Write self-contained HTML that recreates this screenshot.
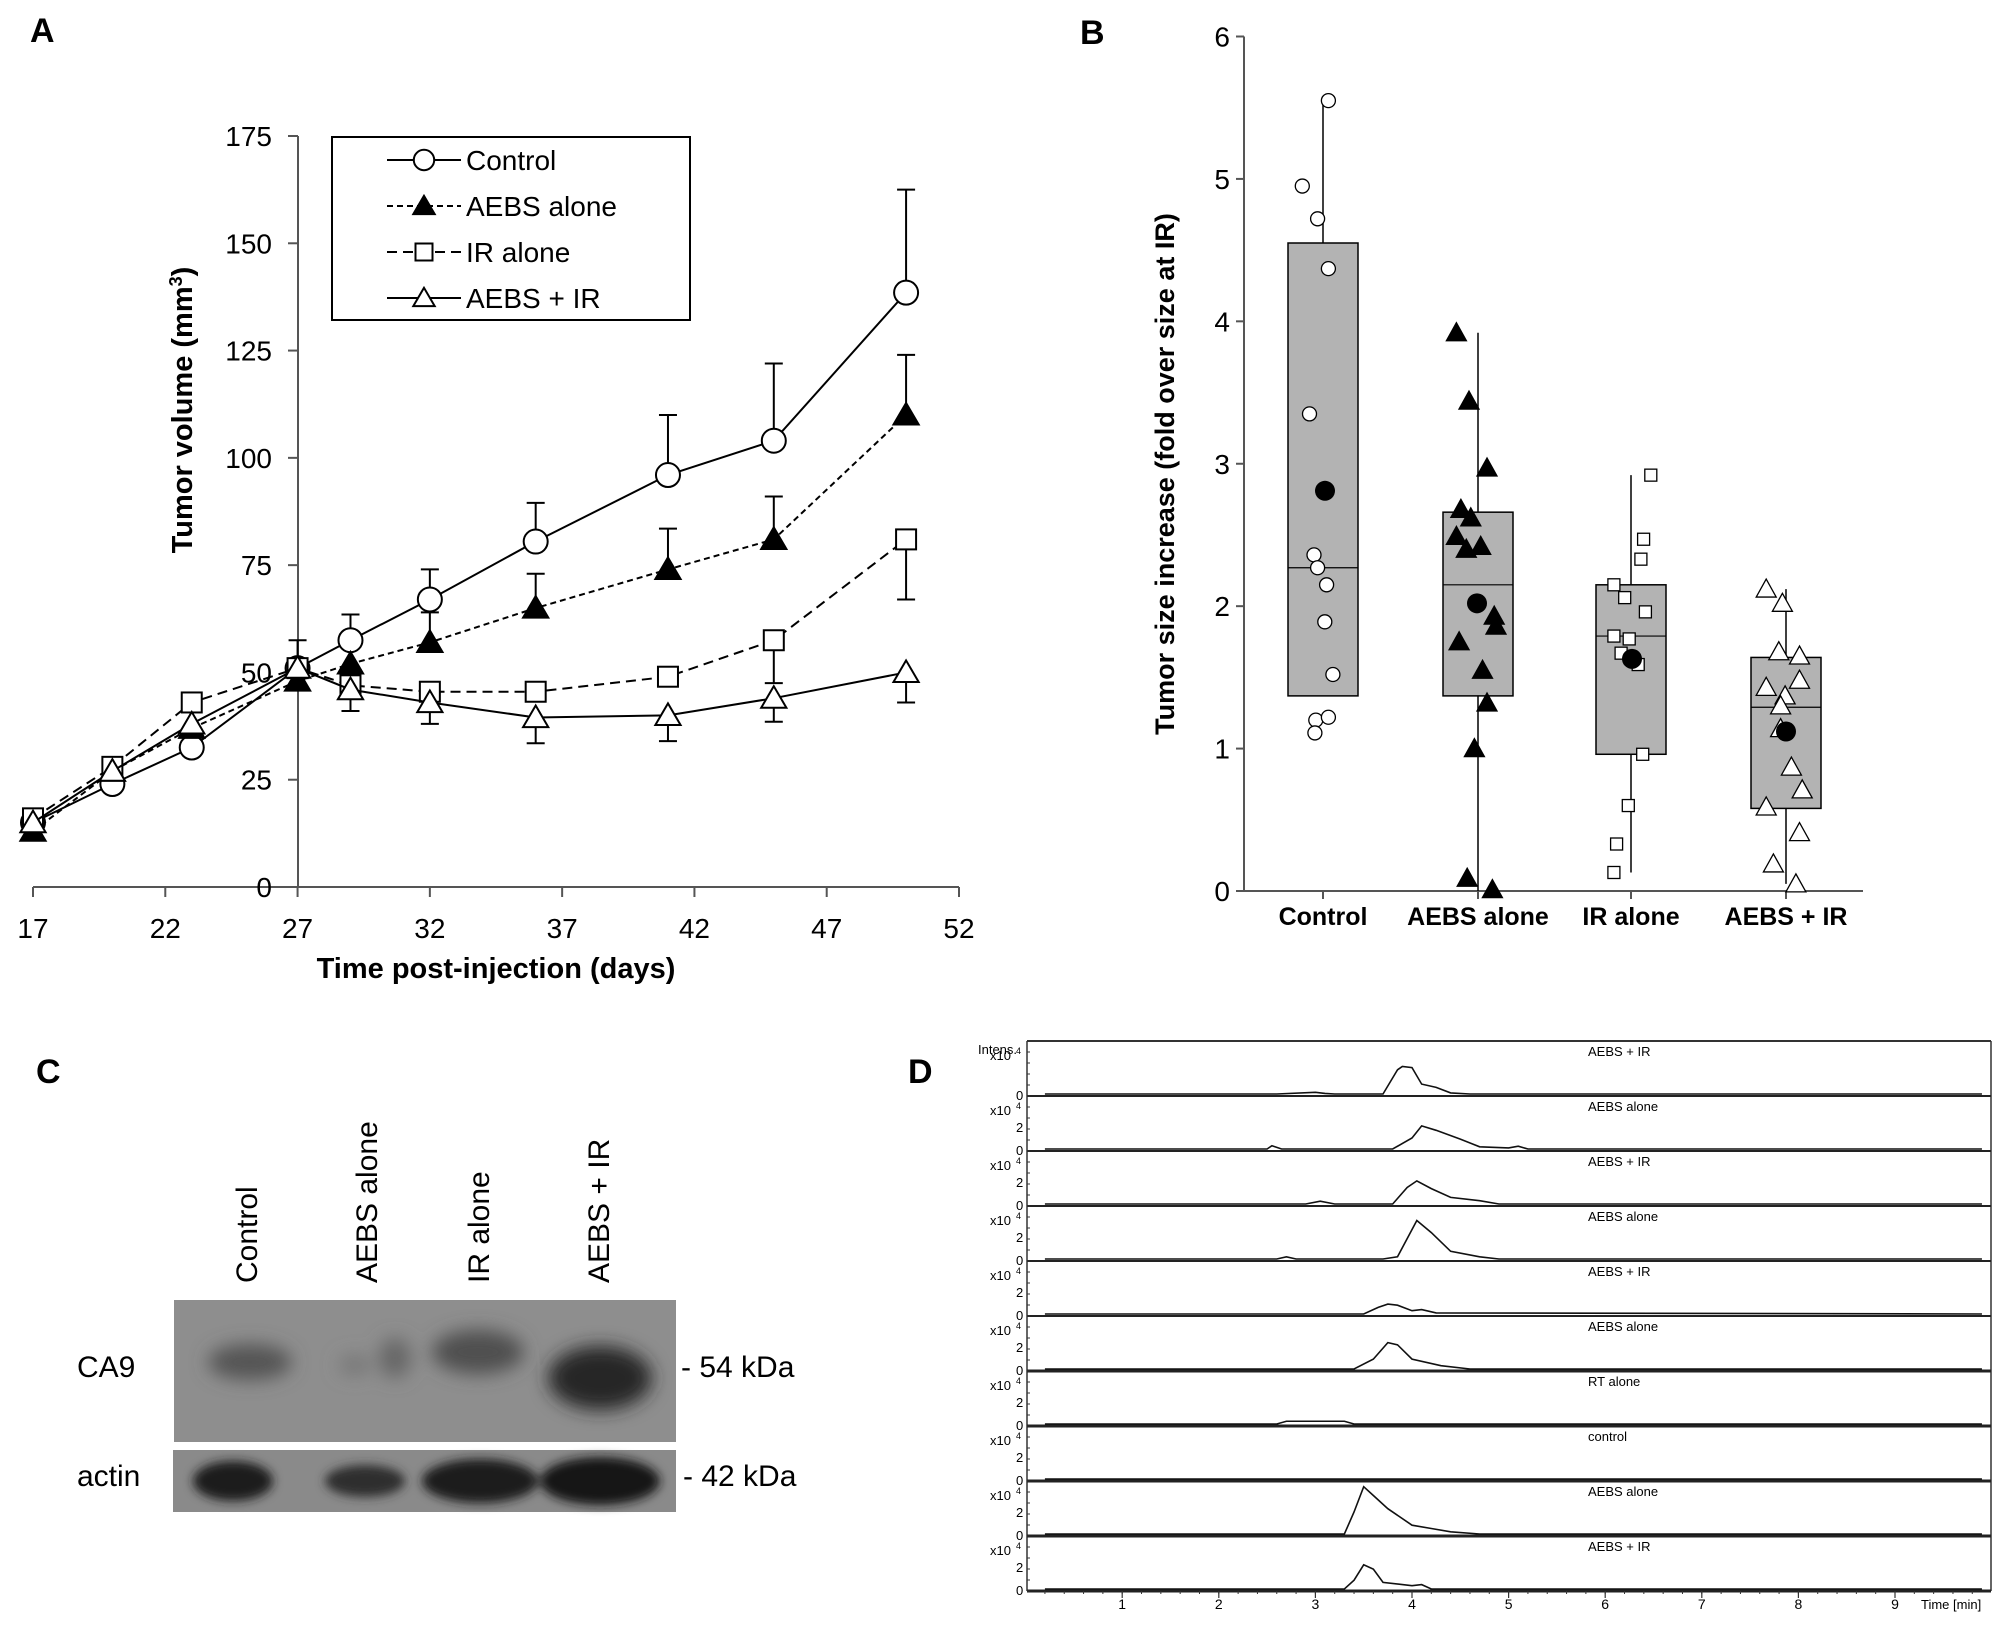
<!DOCTYPE html>
<html><head><meta charset="utf-8"><style>
html,body{margin:0;padding:0;background:#fff}
svg{display:block;font-family:"Liberation Sans",Arial,sans-serif}
</style></head><body>
<svg id="fig" width="2008" height="1636" viewBox="0 0 2008 1636" xmlns="http://www.w3.org/2000/svg">
<defs>
<filter id="blur8" x="-50%" y="-50%" width="200%" height="200%"><feGaussianBlur stdDeviation="9"/></filter>
<filter id="blur4" x="-50%" y="-50%" width="200%" height="200%"><feGaussianBlur stdDeviation="5"/></filter>
</defs>
<text x="30" y="42" font-size="34" font-weight="bold">A</text>
<text x="1080" y="44" font-size="34" font-weight="bold">B</text>
<text x="36" y="1083" font-size="34" font-weight="bold">C</text>
<text x="908" y="1083" font-size="34" font-weight="bold">D</text>
<g id="panelA"></g>
<g id="panelB"></g>
<g id="panelC"></g>
<g id="panelD"></g>
</svg>
<script>
// ---------- Panel A data ----------
const aDays = [17,20,23,27,29,32,36,41,45,50];
const aControl = [15,24,32.5,51,57.5,67,80.5,96,104,138.5];
const aControlErr = [0,0,0,6.5,6,7,9,14,18,24];
const aAebs = [13,27,37,48,52,57,65,74,81,110];
const aAebsErr = [0,0,0,0,0,7,8,9.5,10,14];
const aIr = [16,28,43,51,47,45.5,45.5,49,57.5,81];
const aIrErr = [0,0,0,0,0,0,0,0,10,14];
const aCombo = [15,27,38,51,46,43,39.5,40,44,50];
const aComboErr = [0,0,0,0,5,5,6,6,5.5,7];
const aYTicks = [0,25,50,75,100,125,150,175];
const aXTicks = [17,22,27,32,37,42,47,52];
const aLegend = ['Control','AEBS alone','IR alone','AEBS + IR'];

// ---------- Panel B data ----------
const bCats = ['Control','AEBS alone','IR alone','AEBS + IR'];
const bQ1 = [1.37,1.37,0.96,0.58];
const bQ3 = [4.55,2.66,2.15,1.64];
const bMed = [2.27,2.15,1.79,1.29];
const bWLo = [1.37,0.0,0.13,0.05];
const bWHi = [5.55,3.92,2.92,2.12];
const bMean = [2.81,2.02,1.63,1.12];
const bPtsControl = [4.95,4.72,5.55,4.37,3.35,2.36,2.27,2.15,1.89,1.52,1.2,1.22,1.11];
const bJitControl = [-23,-6,6,6,-15,-10,-6,4,2,11,-8,6,-9];
const bPtsAebs = [3.92,3.44,2.97,2.68,2.62,2.49,2.4,2.42,1.93,1.86,1.75,1.55,1.32,1.0,0.09,0.01];
const bJitAebs = [-24,-10,10,-19,-8,-24,-13,3,18,20,-21,5,10,-4,-12,16];
const bPtsIr = [2.92,2.47,2.33,2.15,2.06,1.96,1.79,1.77,1.67,1.59,0.96,0.6,0.33,0.13];
const bJitIr = [22,14,11,-19,-7,16,-19,-2,-11,8,13,-3,-16,-19];
const bPtsCombo = [2.12,2.02,1.68,1.65,1.48,1.43,1.37,1.3,1.14,0.87,0.71,0.59,0.41,0.19,0.05];
const bJitCombo = [-22,-4,-8,15,15,-22,-1,-6,-6,6,18,-22,15,-14,11];
const bYTicks = [0,1,2,3,4,5,6];

// ---------- Panel D data ----------
const dLabels = ['AEBS + IR','AEBS alone','AEBS + IR','AEBS alone','AEBS + IR','AEBS alone','RT alone','control','AEBS alone','AEBS + IR'];
const dTimes = [
 [0.2,2.6,3.0,3.1,3.2,3.7,3.85,3.9,4.0,4.1,4.25,4.4,4.6,9.9],
 [0.2,2.5,2.55,2.65,3.8,4.0,4.1,4.25,4.5,4.7,5.0,5.1,5.2,9.9],
 [0.2,2.9,3.05,3.2,3.8,3.95,4.05,4.2,4.4,4.7,4.9,9.9],
 [0.2,2.6,2.7,2.8,3.7,3.85,4.05,4.2,4.4,4.7,4.9,9.9],
 [0.2,3.5,3.65,3.75,3.85,4.0,4.1,4.25,9.9],
 [0.2,3.4,3.6,3.75,3.85,4.0,4.3,4.6,9.9],
 [0.2,2.6,2.7,3.3,3.4,9.9],
 [0.2,9.9],
 [0.2,3.3,3.4,3.5,3.6,3.75,4.0,4.2,4.4,4.7,9.9],
 [0.2,2.8,3.3,3.4,3.5,3.6,3.7,4.0,4.1,4.2,9.9]];
const dVals = [
 [0,0,0.15,0.05,0,0,2.2,2.5,2.4,0.9,0.6,0.1,0,0],
 [0,0,0.3,0,0,1.0,2.1,1.7,0.9,0.2,0.1,0.25,0,0],
 [0,0,0.25,0,0,1.5,2.1,1.4,0.6,0.3,0,0],
 [0,0,0.2,0,0,0.2,3.5,2.4,0.7,0.2,0,0],
 [0,0,0.6,0.9,0.8,0.3,0.4,0.1,0],
 [0,0,0.9,2.4,2.2,0.9,0.3,0,0],
 [0,0,0.25,0.25,0,0],
 [0,0],
 [0,0,2.0,4.3,3.5,2.3,0.8,0.5,0.2,0,0],
 [0,0,0,0.8,2.2,1.8,0.6,0.3,0.4,0,0]];
const dXTicks = [1,2,3,4,5,6,7,8,9];

const NS='http://www.w3.org/2000/svg';
function mk(parent,tag,attrs,text){const e=document.createElementNS(NS,tag);for(const k in attrs)e.setAttribute(k,attrs[k]);if(text!==undefined)e.textContent=text;parent.appendChild(e);return e;}

// ================= Panel A =================
(function(){
 const g=document.getElementById('panelA');
 const X=d=>33+(d-17)*(926/35);
 const Y=v=>887-v*(751/175);
 let e;
 e=mk(g,'line',{x1:298,y1:Y(175),x2:298,y2:887,stroke:'#555','stroke-width':2});
 
 
 e=mk(g,'line',{x1:33,y1:887,x2:959,y2:887,stroke:'#555','stroke-width':2});
 
 
 aYTicks.forEach(v=>{
  mk(g,'line',{x1:288,y1:Y(v),x2:298,y2:Y(v),stroke:'#555','stroke-width':2});
  e=mk(g,'text',{x:272,y:Y(v)+10,'font-size':28,'text-anchor':'end'},String(v));
  
  
 });
 aXTicks.forEach(v=>{
  mk(g,'line',{x1:X(v),y1:887,x2:X(v),y2:897,stroke:'#555','stroke-width':2});
  e=mk(g,'text',{x:X(v),y:938,'font-size':28,'text-anchor':'middle'},String(v));
  
  
 });
 e=mk(g,'text',{x:496,y:978,'font-size':29,'font-weight':'bold','text-anchor':'middle'},'Time post-injection (days)');
 
 
 e=mk(g,'text',{x:0,y:0,'font-size':29,'font-weight':'bold','text-anchor':'middle',transform:'translate(192,410) rotate(-90)'});
 
 
 e.innerHTML='Tumor volume (mm<tspan font-size="18" dy="-10">3</tspan><tspan dy="10">)</tspan>';

 function marker(p,type,cx,cy,big){
  const s=big?1:0.85;
  if(type==='circle') return mk(p,'circle',{cx,cy,r:12*s,fill:'#fff',stroke:'#000','stroke-width':2});
  if(type==='square') return mk(p,'rect',{x:cx-10*s,y:cy-10*s,width:20*s,height:20*s,fill:'#fff',stroke:'#000','stroke-width':2});
  const h=12*s;
  return mk(p,'polygon',{points:`${cx},${cy-h} ${cx-h*1.05},${cy+h*0.8} ${cx+h*1.05},${cy+h*0.8}`,fill:type==='tri-filled'?'#000':'#fff',stroke:'#000','stroke-width':2});
 }
 const series=[
  {name:'control',vals:aControl,err:aControlErr,dir:-1,dash:'',m:'circle'},
  {name:'aebs-alone',vals:aAebs,err:aAebsErr,dir:-1,dash:'6,4',m:'tri-filled'},
  {name:'ir-alone',vals:aIr,err:aIrErr,dir:1,dash:'10,6',m:'square'},
  {name:'aebs-ir',vals:aCombo,err:aComboErr,dir:1,dash:'',m:'tri-open'}];
 series.forEach(s=>{
  const sg=mk(g,'g',{});
  
  
  s.vals.forEach((v,i)=>{
   if(s.err[i]>0){
    const y2=Y(v+s.dir*-1*s.err[i]);
    const ey=Y(s.dir<0?v+s.err[i]:v-s.err[i]);
    mk(sg,'line',{x1:X(aDays[i]),y1:Y(v),x2:X(aDays[i]),y2:ey,stroke:'#000','stroke-width':2});
    mk(sg,'line',{x1:X(aDays[i])-9,y1:ey,x2:X(aDays[i])+9,y2:ey,stroke:'#000','stroke-width':2});
   }
  });
  const pts=s.vals.map((v,i)=>X(aDays[i])+','+Y(v)).join(' ');
  const pl=mk(sg,'polyline',{points:pts,fill:'none',stroke:'#000','stroke-width':2,'stroke-dasharray':s.dash});
  
  
  s.vals.forEach((v,i)=>{
   const m=marker(sg,s.m,X(aDays[i]),Y(v),true);
   
   
  });
 });
 const lg=mk(g,'g',{});
 
 
 mk(lg,'rect',{x:332,y:137,width:358,height:183,fill:'#fff',stroke:'#000','stroke-width':2});
 aLegend.forEach((t,i)=>{
  const y=160+i*46;
  const s=series[i];
  const eg=mk(lg,'g',{});
  
  
  mk(eg,'line',{x1:387,y1:y,x2:461,y2:y,stroke:'#000','stroke-width':2,'stroke-dasharray':s.dash});
  marker(eg,s.m,424,y,false);
  mk(eg,'text',{x:466,y:y+10,'font-size':28},t);
 });
})();

// ================= Panel B =================
(function(){
 const g=document.getElementById('panelB');
 const Y=v=>891-v*(854.5/6);
 const cx=[1323,1478,1631,1786];
 let e;
 e=mk(g,'line',{x1:1244,y1:Y(6),x2:1244,y2:891,stroke:'#555','stroke-width':2});
 
 
 e=mk(g,'line',{x1:1244,y1:891,x2:1863,y2:891,stroke:'#555','stroke-width':2});
 
 
 bYTicks.forEach(v=>{
  mk(g,'line',{x1:1236,y1:Y(v),x2:1244,y2:Y(v),stroke:'#555','stroke-width':2});
  e=mk(g,'text',{x:1230,y:Y(v)+10,'font-size':28,'text-anchor':'end'},String(v));
  
  
 });
 e=mk(g,'text',{x:0,y:0,'font-size':27,'font-weight':'bold','text-anchor':'middle',transform:'translate(1174,474) rotate(-90)'},'Tumor size increase (fold over size at IR)');
 
 
 const pts=[bPtsControl,bPtsAebs,bPtsIr,bPtsCombo];
 const jit=[bJitControl,bJitAebs,bJitIr,bJitCombo];
 const mtype=['circle','tri-filled','square','tri-open'];
 bCats.forEach((c,i)=>{
  const x=cx[i];
  mk(g,'line',{x1:x,y1:891,x2:x,y2:899,stroke:'#555','stroke-width':2});
  e=mk(g,'text',{x:x,y:925,'font-size':25,'font-weight':'bold','text-anchor':'middle'},c);
  
  
  const bg=mk(g,'g',{});
  
  
  mk(bg,'line',{x1:x,y1:Y(bWHi[i]),x2:x,y2:Y(bWLo[i]),stroke:'#000','stroke-width':1.5});
  mk(bg,'rect',{x:x-35,y:Y(bQ3[i]),width:70,height:Y(bQ1[i])-Y(bQ3[i]),fill:'#b3b3b3',stroke:'#000','stroke-width':1.5});
  mk(bg,'line',{x1:x-35,y1:Y(bMed[i]),x2:x+35,y2:Y(bMed[i]),stroke:'#000','stroke-width':1.2});
  pts[i].forEach((v,k)=>{
   const px=x+jit[i][k]*0.9, py=Y(v);
   let m;
   if(mtype[i]==='circle') m=mk(bg,'circle',{cx:px,cy:py,r:7,fill:'#fff',stroke:'#000','stroke-width':1.3});
   else if(mtype[i]==='square') m=mk(bg,'rect',{x:px-6,y:py-6,width:12,height:12,fill:'#fff',stroke:'#000','stroke-width':1.3});
   else m=mk(bg,'polygon',{points:`${px},${py-10} ${px-10},${py+8} ${px+10},${py+8}`,fill:mtype[i]==='tri-filled'?'#000':'#fff',stroke:'#000','stroke-width':1.3});
   
   
  });
  const mm=mk(bg,'circle',{cx:x+(i===0?2:i===1?-1:i===2?1:0),cy:Y(bMean[i]),r:10,fill:'#000'});
  
  
 });
})();

// ================= Panel C =================
(function(){
 const g=document.getElementById('panelC');
 const lanes=[247,367,479,599];
 const laneLabels=['Control','AEBS alone','IR alone','AEBS + IR'];
 let e;
 laneLabels.forEach((t,i)=>{
  e=mk(g,'text',{x:0,y:0,'font-size':30,transform:`translate(${lanes[i]+10},1283) rotate(-90)`},t);
  
  
 });
 const ca=mk(g,'g',{});
 
 
 mk(ca,'rect',{x:174,y:1300,width:502,height:142,fill:'#8e8e8e'});
 const cg=mk(ca,'g',{filter:'url(#blur8)'});
 mk(cg,'ellipse',{cx:250,cy:1362,rx:42,ry:18,fill:'#555'});
 mk(cg,'ellipse',{cx:355,cy:1365,rx:16,ry:10,fill:'#777'});
 mk(cg,'ellipse',{cx:395,cy:1358,rx:16,ry:20,fill:'#666'});
 mk(cg,'ellipse',{cx:478,cy:1352,rx:46,ry:22,fill:'#4f4f4f'});
 mk(cg,'ellipse',{cx:600,cy:1378,rx:52,ry:32,fill:'#262626'});
 const ac=mk(g,'g',{});
 
 
 mk(ac,'rect',{x:173,y:1450,width:503,height:62,fill:'#8a8a8a'});
 const agp=mk(ac,'g',{filter:'url(#blur4)'});
 mk(agp,'ellipse',{cx:233,cy:1481,rx:40,ry:20,fill:'#1e1e1e'});
 mk(agp,'ellipse',{cx:365,cy:1481,rx:40,ry:16,fill:'#2e2e2e'});
 mk(agp,'ellipse',{cx:480,cy:1481,rx:58,ry:22,fill:'#1c1c1c'});
 mk(agp,'ellipse',{cx:600,cy:1481,rx:60,ry:24,fill:'#161616'});
 [['CA9',77,1377],['actin',77,1486]].forEach(a=>{
  e=mk(g,'text',{x:a[1],y:a[2],'font-size':30},a[0]);
  
  
 });
 [['- 54 kDa',681,1377],['- 42 kDa',683,1486]].forEach(a=>{
  e=mk(g,'text',{x:a[1],y:a[2],'font-size':30},a[0]);
  
  
 });
})();

// ================= Panel D =================
(function(){
 const g=document.getElementById('panelD');
 const L=1027,R=1991,T=1041,H=55;
 const X=t=>1025.6+t*96.6;
 let e;
 e=mk(g,'text',{x:978,y:1054,'font-size':13},'Intens.');
 
 
 mk(g,'line',{x1:L,y1:T,x2:R,y2:T,stroke:'#333','stroke-width':2});
 mk(g,'line',{x1:L,y1:T,x2:L,y2:T+H*10,stroke:'#333','stroke-width':1.5});
 mk(g,'line',{x1:R,y1:T,x2:R,y2:T+H*10,stroke:'#333','stroke-width':1.5});
 dLabels.forEach((lab,i)=>{
  const base=T+H*(i+1);
  const sg=mk(g,'g',{});
  
  
  const Yv=v=>base-2-v*11;
  mk(sg,'line',{x1:L,y1:base,x2:R,y2:base,stroke:'#222','stroke-width':i>=5?3:2});
  const pts=dTimes[i].map((t,k)=>X(t)+','+Yv(dVals[i][k])).join(' ');
  mk(sg,'polyline',{points:pts,fill:'none',stroke:'#111','stroke-width':1.6});
  mk(sg,'text',{x:1588,y:base-H+15,'font-size':13},lab);
  mk(sg,'text',{x:990,y:base-H+19,'font-size':13},'x10');
  mk(sg,'text',{x:1016,y:base-H+13,'font-size':9},'4');
  if(i>0) mk(sg,'text',{x:1016,y:Yv(2)+5,'font-size':13},'2');
  mk(sg,'text',{x:1016,y:base+4,'font-size':13},'0');
  for(let k=0;k<5;k++) mk(sg,'line',{x1:L,y1:base-k*11,x2:L+3,y2:base-k*11,stroke:'#333','stroke-width':1});
 });
 const bottom=T+H*10;
 for(let t=0.2;t<9.95;t+=0.2){mk(g,'line',{x1:X(t),y1:bottom,x2:X(t),y2:bottom+3,stroke:'#333','stroke-width':1});}
 dXTicks.forEach(t=>{
  mk(g,'line',{x1:X(t),y1:bottom,x2:X(t),y2:bottom+7,stroke:'#333','stroke-width':1.2});
  e=mk(g,'text',{x:X(t),y:bottom+18,'font-size':14,'text-anchor':'middle'},String(t));
  
  
 });
 e=mk(g,'text',{x:1921,y:bottom+18,'font-size':13},'Time [min]');
 
 
})();
</script>
</body></html>
